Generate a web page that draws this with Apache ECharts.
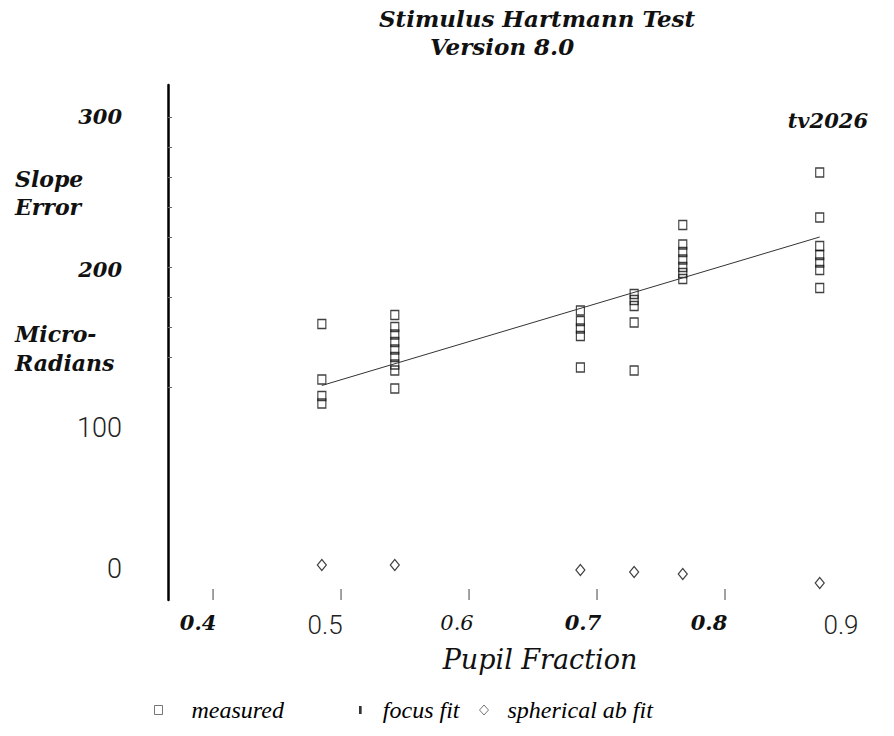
<!DOCTYPE html>
<html><head><meta charset="utf-8">
<script src="https://cdn.jsdelivr.net/npm/echarts@6/dist/echarts.min.js"></script>
<style>html,body{margin:0;padding:0;background:#fff}#c{width:894px;height:736px}</style>
</head><body><div id="c"></div>
<script>
// ---- data ----
const clusterX = [0.485, 0.542, 0.687, 0.729, 0.767, 0.874];
const measured1 = [162, 125, 114, 109];
const measured2 = [168, 160, 155, 150, 145, 140, 135, 131, 119];
const measured3 = [171, 164, 159, 154, 133];
const measured4 = [182, 178, 174, 163, 131];
const measured5 = [228, 215, 210, 205, 200, 196, 192];
const measured6 = [263, 233, 214, 208, 203, 198, 186];
const focusFitX = [0.485, 0.874];
const focusFitY = [121, 220];
const sphericalY = [1.3, 1.3, -2, -3.3, -4.7, -10.7];
const xTickValues = [0.4, 0.5, 0.6, 0.7, 0.8];
const xLabelValues = [0.4, 0.5, 0.6, 0.7, 0.8, 0.9];
const xLabelTexts = ['0.4', '0.5', '0.6', '0.7', '0.8', '0.9'];
const yTickValues = [120, 140, 160, 180, 200, 220, 240, 260, 280, 300];
const yLabelValues = [0, 100, 200, 300];
const yLabelTexts = ['0', '100', '200', '300'];
const seriesNames = ['measured', 'focus fit', 'spherical ab fit'];
const X_MIN = 0.3648, X_MAX = 0.9, Y_MIN = -22, Y_MAX = 321.33;

// ---- build series data ----
const measuredGroups = [measured1, measured2, measured3, measured4, measured5, measured6];
const measuredData = [];
measuredGroups.forEach((g, i) => g.forEach(v => measuredData.push([clusterX[i], v])));
const focusData = focusFitX.map((x, i) => [x, focusFitY[i]]);
const sphericalData = clusterX.map((x, i) => [x, sphericalY[i]]);
const xTickData = xTickValues.map(v => [v, Y_MIN]);

// ---- styles ----
const SERIF = "'DejaVu Serif', 'Liberation Serif', serif";
const SANS = "Roboto, 'Liberation Sans', sans-serif";
const fontStyles = {
  bi: { fontFamily: SERIF, fontStyle: 'italic', fontWeight: 'bold', fontSize: 21, color: '#111' },
  it: { fontFamily: SERIF, fontStyle: 'italic', fontWeight: 'normal', fontSize: 21, color: '#111' },
  ls: { fontFamily: SANS, fontWeight: 300, fontSize: 26, color: '#222' },
  lsy: { fontFamily: SANS, fontWeight: 300, fontSize: 27, color: '#222' },
  biy: { fontFamily: SERIF, fontStyle: 'italic', fontWeight: 'bold', fontSize: 21, color: '#111' }
};
const xLabelStyleKeys = ['bi', 'ls', 'it', 'bi', 'bi', 'ls'];
const xLabelShift = [15, 16, 12, 14, 16, 12];
const xRich = {};
xLabelStyleKeys.forEach((k, i) => {
  xRich['x' + i] = Object.assign({}, fontStyles[k], { padding: [0, xLabelShift[i] * 2, 0, 0] });
});
const yLabelStyleKeys = ['lsy', 'lsy', 'biy', 'biy'];
const yLabelDrop = [2, 11, 3, 0];
const yRich = {};
yLabelStyleKeys.forEach((k, i) => {
  yRich['y' + i] = Object.assign({}, fontStyles[k], { padding: [yLabelDrop[i] * 2, 0, 0, 0] });
});

function idxOf(arr, v) {
  let best = 0, d = Infinity;
  arr.forEach((a, i) => { if (Math.abs(a - v) < d) { d = Math.abs(a - v); best = i; } });
  return best;
}

const legendText = { fontFamily: "'Liberation Serif', serif", fontStyle: 'italic', fontSize: 24, color: '#000' };
const hollow = { color: 'rgba(0,0,0,0)', borderColor: '#555', borderWidth: 1 };
const labelFont = "italic bold 22px 'DejaVu Serif'";
const TICK_LEN = 11;

const chart = echarts.init(document.getElementById('c'), null, { renderer: 'svg' });
chart.setOption({
  animation: false,
  backgroundColor: '#fff',
  grid: { left: 168, right: 41, top: 85, bottom: 136, containLabel: false, outerBoundsMode: 'none' },
  xAxis: {
    type: 'value', min: X_MIN, max: X_MAX, position: 'bottom',
    axisLine: { show: false, onZero: false },
    splitLine: { show: false },
    axisTick: { show: false },
    axisLabel: {
      customValues: xLabelValues, margin: 12,
      formatter: v => { const i = idxOf(xLabelValues, v); return '{x' + i + '|' + xLabelTexts[i] + '}'; },
      rich: xRich
    }
  },
  yAxis: {
    type: 'value', min: Y_MIN, max: Y_MAX,
    axisLine: { show: true, onZero: false, lineStyle: { color: '#000', width: 2.5 } },
    splitLine: { show: false },
    axisTick: { show: true, inside: true, length: 4, customValues: yTickValues, lineStyle: { color: '#666', width: 1 } },
    axisLabel: {
      customValues: yLabelValues, margin: 46,
      formatter: v => { const i = idxOf(yLabelValues, v); return '{y' + i + '|' + yLabelTexts[i] + '}'; },
      rich: yRich
    }
  },
  legend: [
    { bottom: 9, left: 149, itemWidth: 8, itemHeight: 9, selectedMode: false,
      textStyle: Object.assign({ padding: [0, 0, 0, 24] }, legendText),
      data: [{ name: seriesNames[0], icon: 'rect', itemStyle: hollow }] },
    { bottom: 9, left: 354, itemWidth: 3, itemHeight: 8, selectedMode: false,
      textStyle: Object.assign({ padding: [0, 0, 0, 16] }, legendText),
      data: [{ name: seriesNames[1], icon: 'path://M0,0L2,0L2,6L0,6Z', itemStyle: { color: '#333' } }] },
    { bottom: 9, left: 474, itemWidth: 9, itemHeight: 10, selectedMode: false,
      textStyle: Object.assign({ padding: [0, 0, 0, 14] }, legendText),
      data: [{ name: seriesNames[2], icon: 'diamond', itemStyle: hollow }] }
  ],
  series: [
    { name: seriesNames[0], type: 'scatter', data: measuredData, symbol: 'rect', symbolSize: [8, 9],
      itemStyle: { color: 'rgba(0,0,0,0)', borderColor: '#111', borderWidth: 1.2 } },
    { name: seriesNames[1], type: 'line', data: focusData, symbol: 'none',
      lineStyle: { color: '#333', width: 1 } },
    { name: seriesNames[2], type: 'scatter', data: sphericalData, symbol: 'diamond', symbolSize: [9, 11],
      itemStyle: { color: 'rgba(0,0,0,0)', borderColor: '#111', borderWidth: 1.2 } },
    { name: 'x ticks', type: 'custom', data: xTickData, silent: true, clip: false, z: 1,
      encode: { x: 0, y: 1 },
      renderItem: (params, api) => {
        const p = api.coord([api.value(0), api.value(1)]);
        return { type: 'line', shape: { x1: p[0], y1: p[1] - TICK_LEN, x2: p[0], y2: p[1] },
                 style: { stroke: '#444', lineWidth: 1 } };
      } }
  ],
  graphic: [
    { type: 'text', x: 537, y: 18, style: { text: 'Stimulus Hartmann Test', textAlign: 'center', textVerticalAlign: 'middle', font: "italic bold 23px 'DejaVu Serif'", fill: '#111' } },
    { type: 'text', x: 502, y: 46, style: { text: 'Version 8.0', textAlign: 'center', textVerticalAlign: 'middle', font: "italic bold 23px 'DejaVu Serif'", fill: '#111' } },
    { type: 'text', x: 868, y: 120, style: { text: 'tv2026', textAlign: 'right', textVerticalAlign: 'middle', font: "italic bold 21px 'DejaVu Serif'", fill: '#111' } },
    { type: 'text', x: 15, y: 179, style: { text: 'Slope', textAlign: 'left', textVerticalAlign: 'middle', font: labelFont, fill: '#111' } },
    { type: 'text', x: 15, y: 207, style: { text: 'Error', textAlign: 'left', textVerticalAlign: 'middle', font: labelFont, fill: '#111' } },
    { type: 'text', x: 15, y: 334, style: { text: 'Micro-', textAlign: 'left', textVerticalAlign: 'middle', font: labelFont, fill: '#111' } },
    { type: 'text', x: 15, y: 363, style: { text: 'Radians', textAlign: 'left', textVerticalAlign: 'middle', font: labelFont, fill: '#111' } },
    { type: 'text', x: 540, y: 659, style: { text: 'Pupil Fraction', textAlign: 'center', textVerticalAlign: 'middle', font: "italic 27px 'DejaVu Serif'", fill: '#111' } }
  ]
});
</script></body></html>
